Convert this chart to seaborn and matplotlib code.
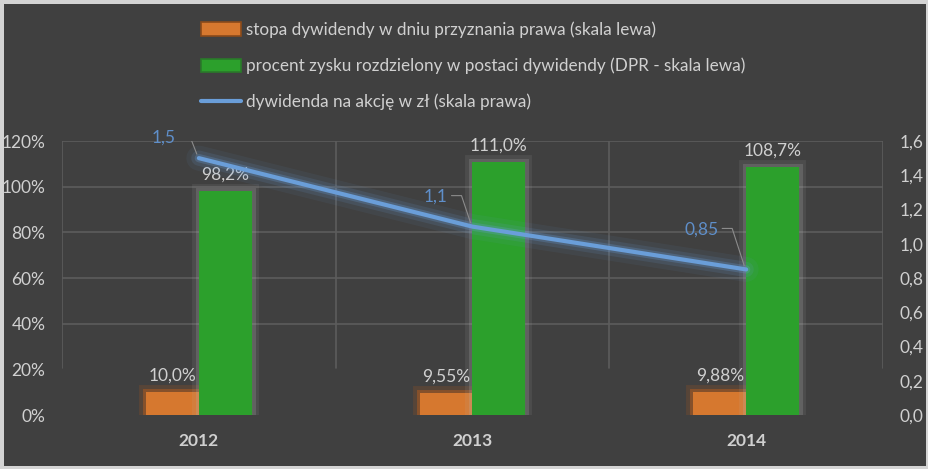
import matplotlib
matplotlib.use("Agg")
import matplotlib.pyplot as plt
import matplotlib.patheffects as pe
import matplotlib.transforms as mtransforms
from matplotlib.lines import Line2D
from matplotlib.patches import Patch
import seaborn as sns
import pandas as pd
import numpy as np

# ---- data ----
years = ["2012", "2013", "2014"]
stopa_dywidendy = [10.0, 9.55, 9.88]          # % (left axis)
dpr = [98.2, 111.0, 108.7]                    # % (left axis)
dywidenda_na_akcje = [1.5, 1.1, 0.85]         # zł (right axis)
stopa_labels = ["10,0%", "9,55%", "9,88%"]
dpr_labels = ["98,2%", "111,0%", "108,7%"]
dps_labels = ["1,5", "1,1", "0,85"]
left_ticks = [0, 20, 40, 60, 80, 100, 120]
left_tick_labels = ["0%", "20%", "40%", "60%", "80%", "100%", "120%"]
right_ticks = [0, 0.2, 0.4, 0.6, 0.8, 1.0, 1.2, 1.4, 1.6]
right_tick_labels = ["0,0", "0,2", "0,4", "0,6", "0,8", "1,0", "1,2", "1,4", "1,6"]

series_names = [
    "stopa dywidendy w dniu przyznania prawa (skala lewa)",
    "procent zysku rozdzielony w postaci dywidendy (DPR - skala lewa)",
]
line_name = "dywidenda na akcję w zł (skala prawa)"

BG = "#404040"
TXT = "#d0d0d0"
ORANGE = "#d6782f"
GREEN = "#2ca02c"
BLUE = "#6a9ed9"
BLUE_TXT = "#5f8fca"
GRID = "#5c5c5c"
FS = 12.5

df = pd.DataFrame({
    "rok": years * 2,
    "seria": [series_names[0]] * 3 + [series_names[1]] * 3,
    "wartosc": stopa_dywidendy + dpr,
})

sns.set_theme(style="white")
plt.rcParams["font.family"] = ["Lato", "DejaVu Sans"]

fig = plt.figure(figsize=(9.29, 4.69), dpi=100)
fig.patch.set_facecolor(BG)
fig.patch.set_edgecolor("#d4d4d4")
fig.patch.set_linewidth(5)

ax = fig.add_axes([62 / 929, 1 - 415 / 469, (883 - 62) / 929, (415 - 141) / 469])
ax.set_facecolor(BG)

sns.barplot(data=df, x="rok", y="wartosc", hue="seria", order=years,
            hue_order=series_names, palette=[ORANGE, GREEN], width=0.385,
            saturation=1, ax=ax, legend=False, zorder=3, linewidth=0,
            edgecolor="none")

# glow effects on bars
n = len(years)
for i, p in enumerate(ax.patches):
    p.set_edgecolor("none")
    if i < n:
        p.set_path_effects([pe.Stroke(linewidth=10, foreground="#b85a18", alpha=0.2),
                            pe.Stroke(linewidth=5, foreground="#c0601c", alpha=0.45),
                            pe.Normal()])
    else:
        p.set_path_effects([pe.Stroke(linewidth=10, foreground="#b8b8b8", alpha=0.10),
                            pe.Stroke(linewidth=5, foreground="#b8b8b8", alpha=0.2),
                            pe.Normal()])

ax.set_ylim(0, 120)
ax.set_xlim(-0.5, n - 0.5)
ax.set_yticks(left_ticks)
ax.set_yticklabels(left_tick_labels)
ax.set_xlabel("")
ax.set_ylabel("")

# gridlines
for yv in left_ticks[2:]:
    ax.axhline(yv, color=GRID, lw=1.2, zorder=1)
for xv in [-0.5, 0.5, 1.5, 2.5]:
    ax.axvline(xv, ymin=0.17, ymax=1.0, color=GRID, lw=1.2, zorder=1)

for s in ax.spines.values():
    s.set_visible(False)
ax.tick_params(axis="y", length=0, pad=12, labelsize=FS, labelcolor=TXT)
ax.tick_params(axis="x", length=0, pad=13, labelsize=FS, labelcolor=TXT)
for t in ax.get_xticklabels():
    t.set_fontweight("bold")

# bar labels
for i, p in enumerate(ax.patches):
    lab = (stopa_labels + dpr_labels)[i]
    ax.annotate(lab, (p.get_x() + p.get_width() / 2, p.get_height()),
                xytext=(0, 6), textcoords="offset points", ha="center", va="bottom",
                color=TXT, fontsize=FS, zorder=5)

# right axis with line
ax2 = ax.twinx()
ax2.set_facecolor("none")
xpos = np.arange(n)
sns.lineplot(x=xpos, y=dywidenda_na_akcje, ax=ax2, color=BLUE, lw=3, zorder=4,
             path_effects=[pe.Stroke(linewidth=18, foreground=BLUE, alpha=0.07),
                           pe.Stroke(linewidth=11, foreground=BLUE, alpha=0.13),
                           pe.Stroke(linewidth=6, foreground=BLUE, alpha=0.25),
                           pe.Normal()])
ax2.set_ylim(0, 1.6)
ax2.set_yticks(right_ticks)
ax2.set_yticklabels(right_tick_labels)
ax2.set_xlim(-0.5, n - 0.5)
for s in ax2.spines.values():
    s.set_visible(False)
ax2.tick_params(axis="y", length=0, pad=12, labelsize=FS, labelcolor=TXT)

# line labels with leader lines (offsets in pixels at 100 dpi -> inches)
label_offsets = [(-23, 21), (-25, 30), (-28, 40)]
for xi, yv, lab, (dx, dy) in zip(xpos, dywidenda_na_akcje, dps_labels, label_offsets):
    tr = fig.dpi_scale_trans + mtransforms.ScaledTranslation(xi, yv, ax2.transData)
    ax2.text(dx / 100, dy / 100, lab, transform=tr, ha="right", va="center",
             color=BLUE_TXT, fontsize=FS, zorder=6)
    lx = [(dx + 4) / 100, (dx + 14) / 100, -2 / 100]
    ly = [(dy + 1) / 100, (dy + 1) / 100, 4 / 100]
    ax2.add_line(Line2D(lx, ly, transform=tr, color="#8c8c8c", lw=0.8, zorder=6))

# legend
handles = [Patch(facecolor=ORANGE, edgecolor="#8a4a1a", lw=1.2),
           Patch(facecolor=GREEN, edgecolor="#2a7a2a", lw=1.2),
           Line2D([0], [0], color=BLUE, lw=3)]
fig.legend(handles, series_names + [line_name], loc="upper left",
           bbox_to_anchor=(186 / 929, 1 - 6 / 469), frameon=False, ncol=1,
           labelcolor=TXT, fontsize=12.3, handlelength=2.3, handleheight=0.8,
           handletextpad=0.3, labelspacing=1.15)

fig.savefig("out.png", dpi=100, facecolor=fig.get_facecolor(),
            edgecolor=fig.get_edgecolor())
